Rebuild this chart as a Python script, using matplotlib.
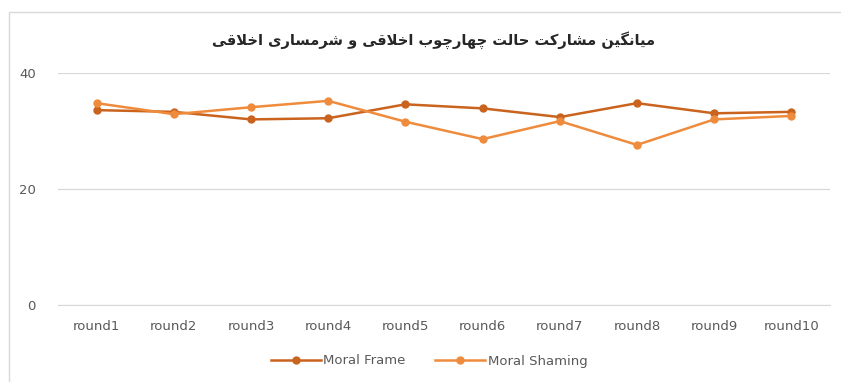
import matplotlib
matplotlib.use("Agg")
import matplotlib.pyplot as plt
from matplotlib.patches import Rectangle
import numpy as np

rounds = ['round1', 'round2', 'round3', 'round4', 'round5',
          'round6', 'round7', 'round8', 'round9', 'round10']
moral_frame = [33.6, 33.3, 32.0, 32.2, 34.6, 33.9, 32.4, 34.8, 33.05, 33.3]
moral_shaming = [34.8, 32.9, 34.1, 35.2, 31.6, 28.6, 31.7, 27.6, 32.0, 32.6]
title_text = 'میانگین مشارکت حالت چهارچوب اخلاقی و شرمساری اخلاقی'


# minimal arabic/persian shaping: (isolated, final, initial, medial)
FORMS = {
    'ا': ('\uFE8D', '\uFE8E', None, None),
    'ب': ('\uFE8F', '\uFE90', '\uFE91', '\uFE92'),
    'ت': ('\uFE95', '\uFE96', '\uFE97', '\uFE98'),
    'ح': ('\uFEA1', '\uFEA2', '\uFEA3', '\uFEA4'),
    'خ': ('\uFEA5', '\uFEA6', '\uFEA7', '\uFEA8'),
    'ر': ('\uFEAD', '\uFEAE', None, None),
    'س': ('\uFEB1', '\uFEB2', '\uFEB3', '\uFEB4'),
    'ش': ('\uFEB5', '\uFEB6', '\uFEB7', '\uFEB8'),
    'ق': ('\uFED5', '\uFED6', '\uFED7', '\uFED8'),
    'ل': ('\uFEDD', '\uFEDE', '\uFEDF', '\uFEE0'),
    'م': ('\uFEE1', '\uFEE2', '\uFEE3', '\uFEE4'),
    'ن': ('\uFEE5', '\uFEE6', '\uFEE7', '\uFEE8'),
    'ه': ('\uFEE9', '\uFEEA', '\uFEEB', '\uFEEC'),
    'و': ('\uFEED', '\uFEEE', None, None),
    'ی': ('\uFBFC', '\uFBFD', '\uFBFE', '\uFBFF'),
    'ک': ('\uFB8E', '\uFB8F', '\uFB90', '\uFB91'),
    'گ': ('\uFB92', '\uFB93', '\uFB94', '\uFB95'),
    'چ': ('\uFB7A', '\uFB7B', '\uFB7C', '\uFB7D'),
}


def dual(c):
    return c in FORMS and FORMS[c][2] is not None


def shape(text):
    out = []
    i = 0
    n = len(text)
    while i < n:
        c = text[i]
        if c not in FORMS:
            out.append(c)
            i += 1
            continue
        prev = text[i - 1] if i > 0 else ''
        join_prev = dual(prev)
        if c == 'ل' and i + 1 < n and text[i + 1] == 'ا':
            out.append('\uFEFC' if join_prev else '\uFEFB')
            i += 2
            continue
        nxt = text[i + 1] if i + 1 < n else ''
        join_next = dual(c) and nxt in FORMS
        f = FORMS[c]
        if join_prev and join_next:
            out.append(f[3])
        elif join_prev:
            out.append(f[1])
        elif join_next:
            out.append(f[2])
        else:
            out.append(f[0])
        i += 1
    return ''.join(out)[::-1]


c_frame = '#C9631E'
c_shame = '#EF8B3C'
grid_c = '#D9D9D9'
txt_c = '#595959'

fig = plt.figure(figsize=(8.41, 3.82), dpi=100)
fig.patches.append(Rectangle((9 / 841, -0.05), 1.0, 1 - 12 / 382 + 0.05,
                             transform=fig.transFigure, fill=False,
                             edgecolor='#D9D9D9', linewidth=1.0))
ax = fig.add_axes([58 / 841, 1 - 305 / 382, (830 - 58) / 841, (305 - 73) / 382])

x = np.arange(len(rounds))
ax.plot(x, moral_frame, color=c_frame, lw=1.8, marker='o', ms=5,
        label='Moral Frame', clip_on=False, zorder=3)
ax.plot(x, moral_shaming, color=c_shame, lw=1.8, marker='o', ms=5,
        label='Moral Shaming', clip_on=False, zorder=3)

ax.set_xlim(-0.5, len(rounds) - 0.5)
ax.set_ylim(0, 40)
ax.set_yticks([0, 20, 40])
ax.set_xticks(x)
ax.set_xticklabels(rounds)
ax.yaxis.grid(True, color=grid_c, lw=0.9)
ax.set_axisbelow(True)
for s in ['top', 'right', 'left']:
    ax.spines[s].set_visible(False)
ax.spines['bottom'].set_color(grid_c)
ax.tick_params(axis='both', length=0, colors=txt_c, labelsize=9.5)
ax.tick_params(axis='x', pad=11)
ax.tick_params(axis='y', pad=16)

fig.text(0.515, 1 - 40 / 382, shape(title_text), ha='center', va='center',
         fontsize=10.5, fontweight='bold', color='#262626', family='DejaVu Sans')

fig.legend(loc='center', bbox_to_anchor=(0.51, 1 - 361 / 382), ncol=2,
           frameon=False, fontsize=9.5, handlelength=3.8, columnspacing=2.2,
           handletextpad=0.2, labelcolor=txt_c)

fig.savefig('out.png', dpi=100)
